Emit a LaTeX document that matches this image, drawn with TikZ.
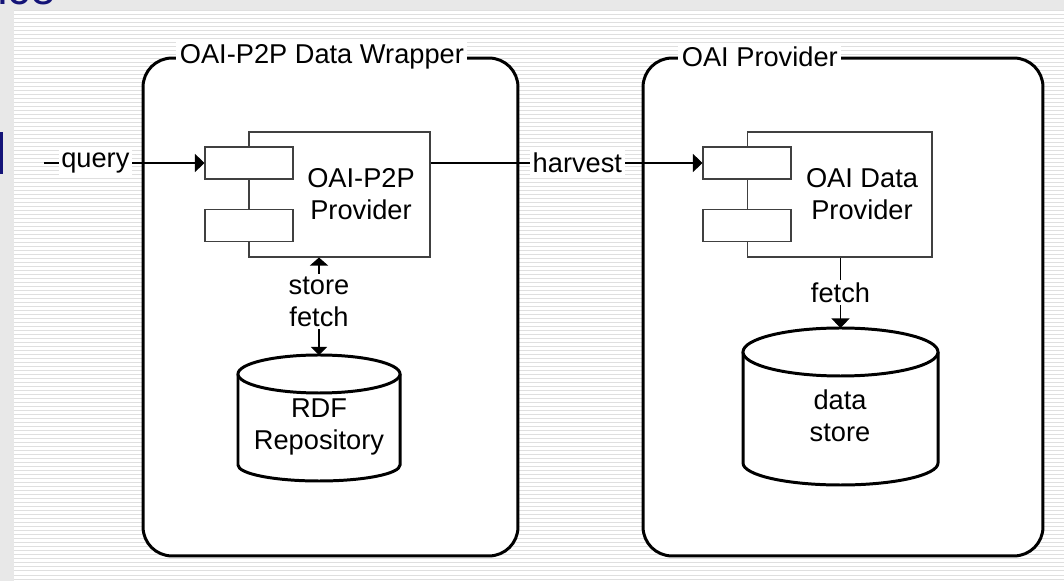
\documentclass[tikz,border=0pt]{standalone}
\usepackage{fontspec}
\setmainfont{Liberation Sans}
\usetikzlibrary{arrows.meta, positioning}
\definecolor{slideblue}{RGB}{20,20,120}

\begin{document}
\begin{tikzpicture}
[x = 0.02cm, y = 0.02cm,
 font = \fontsize{15.5}{18.2}\selectfont,
 frame/.style = {rectangle, draw=black, line width=1.7pt, rounded corners=0.58cm, fill=white, minimum height=9.96cm},
 title/.style = {fill=white, inner sep=2pt, anchor=west},
 comp/.style = {rectangle, draw=black!75, line width=0.6pt, fill=white, minimum height=2.5cm},
 port/.style = {rectangle, draw=black!75, line width=0.6pt, fill=white, minimum width=1.76cm, minimum height=0.64cm},
 drum/.style = {draw=black, line width=1.7pt, fill=white},
 lbl/.style = {fill=white, inner sep=1.5pt, align=center},
 wire/.style = {draw=black, line width=0.6pt},
 tip/.style = {-{Triangle[length=0.19cm, width=0.36cm]}},
 tips/.style = {{Triangle[length=0.16cm, width=0.36cm]}-{Triangle[length=0.16cm, width=0.32cm]}}]

% slide background
\useasboundingbox (0,0) rectangle (1064,581);
\fill[gray!18] (0,0) rectangle (1064,581);
\fill[white] (14,0) rectangle (1064,571);
\foreach \y in {2,6,...,570} \draw[gray!25, line width=0.02cm] (14,\y) -- (1064,\y);
\begin{scope}
\clip (0,571) rectangle (120,581);
\node[slideblue, font=\fontsize{26}{30}\selectfont, anchor=base west, inner sep=0pt] (ttl) at (-18,576) {nce};
\end{scope}
\fill[slideblue] (0,407) rectangle (3,449);

% containers
\node[frame, minimum width=7.5cm] (wrap) at (330.5,274) {};
\node[frame, minimum width=8cm] (prov) at (843,274) {};
\node[title] (wraptitle) at (176,524) {OAI-P2P Data Wrapper};
\node[title] (provtitle) at (678,524) {OAI Provider};

% components
\node[comp, minimum width=3.62cm] (p2p) at (339.5,386.5) {};
\node[port] (p2pa) at (249,418) {};
\node[port] (p2pb) at (249,355.5) {};
\node[align=center] (p2ptext) at (361,387) {OAI-P2P\\Provider};

\node[comp, minimum width=3.7cm] (dp) at (839.5,386.5) {};
\node[port] (dpa) at (747,418) {};
\node[port] (dpb) at (747,355.5) {};
\node[align=center] (dptext) at (862,387) {OAI Data\\Provider};

% repositories
\draw[drum] (238,207) -- (238,116) arc[start angle=180, end angle=360, x radius=81, y radius=16] -- (400,207);
\draw[drum] (319,207) ellipse [x radius=81, y radius=19];
\node[align=center] (rdf) at (319,154) {RDF\\Repository};
\coordinate (rdftop) at (319,226);

\draw[drum] (743,229) -- (743,118) arc[start angle=180, end angle=360, x radius=97.5, y radius=22] -- (938,229);
\draw[drum] (840.5,229) ellipse [x radius=97.5, y radius=24];
\node[align=center] (ds) at (840,165) {data\\store};
\coordinate (dstop) at (840.5,253);

% connectors
\coordinate (qin) at (44,418);
\draw[wire, tip] (qin) -- node[lbl, pos=0.32] (query) {query} (p2pa);
\draw[wire, tip] (p2p.east |- p2pa) -- node[lbl, pos=0.54] (harvest) {harvest} (dpa);
\draw[wire, tips] (p2p.south -| rdftop) -- node[lbl, pos=0.45] (sf) {store\\fetch} (rdftop);
\draw[wire, tip] (dp.south -| dstop) -- node[lbl] (fetch) {fetch} (dstop);

\end{tikzpicture}
\end{document}
